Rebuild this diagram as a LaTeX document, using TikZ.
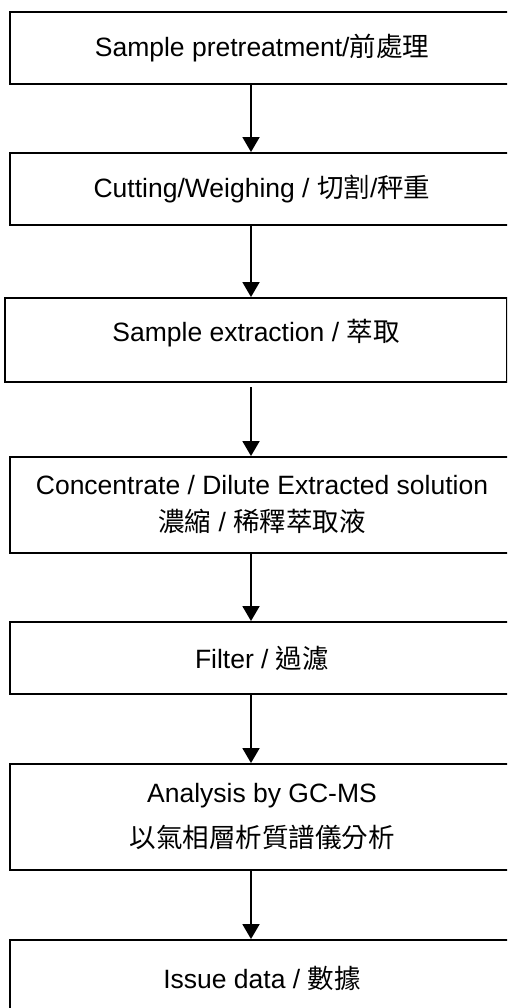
\documentclass[tikz,border=0pt]{standalone}
\usepackage{fontspec}
\setmainfont{Liberation Sans}
\newfontfamily\cjk{Noto Sans CJK TC}
\usetikzlibrary{arrows.meta}
\begin{document}
\begin{tikzpicture}[x=1pt,y=-1pt,
  stepbox/.style={draw=black, line width=1.9pt, rectangle, inner sep=0pt,
    minimum width=504pt, align=center, font=\fontsize{26.5pt}{37pt}\selectfont},
  steptext/.style={inner sep=0pt, align=center, font=\fontsize{26.5pt}{37pt}\selectfont},
  flow/.style={-{Triangle[width=17pt,length=15pt]}, line width=1.9pt}]
\useasboundingbox (0,0) rectangle (507,1008);
\clip (0,0) rectangle (507,1008);
\coordinate (ax) at (251,0);
\node[stepbox, minimum height=72pt] (b1) at (262,48) {Sample pretreatment/{\cjk 前處理}};
\node[stepbox, minimum height=72pt] (b2) at (262,189) {Cutting/Weighing / {\cjk 切割}/{\cjk 秤重}};
\node[stepbox, minimum height=84pt, minimum width=502pt] (b3) at (256,340) {};
\node[steptext] (t3) at (256,333) {Sample extraction / {\cjk 萃取}};
\node[stepbox, minimum height=96pt] (b4) at (262,505) {Concentrate / Dilute Extracted solution\\{\cjk 濃縮} / {\cjk 稀釋萃取液}};
\node[stepbox, minimum height=72pt] (b5) at (262,658) {Filter / {\cjk 過濾}};
\node[stepbox, minimum height=106pt, font=\fontsize{26.5pt}{45pt}\selectfont] (b6) at (262,817) {Analysis by GC-MS\\{\cjk 以氣相層析質譜儀分析}};
\node[stepbox, minimum height=76pt] (b7) at (262,978) {Issue data / {\cjk 數據}};
\coordinate (s3) at (251,387);
\draw[flow] (b1.south -| ax) -- (b2.north -| ax);
\draw[flow] (b2.south -| ax) -- (b3.north -| ax);
\draw[flow] (s3) -- (b4.north -| ax);
\draw[flow] (b4.south -| ax) -- (b5.north -| ax);
\draw[flow] (b5.south -| ax) -- (b6.north -| ax);
\draw[flow] (b6.south -| ax) -- (b7.north -| ax);
\end{tikzpicture}
\end{document}
